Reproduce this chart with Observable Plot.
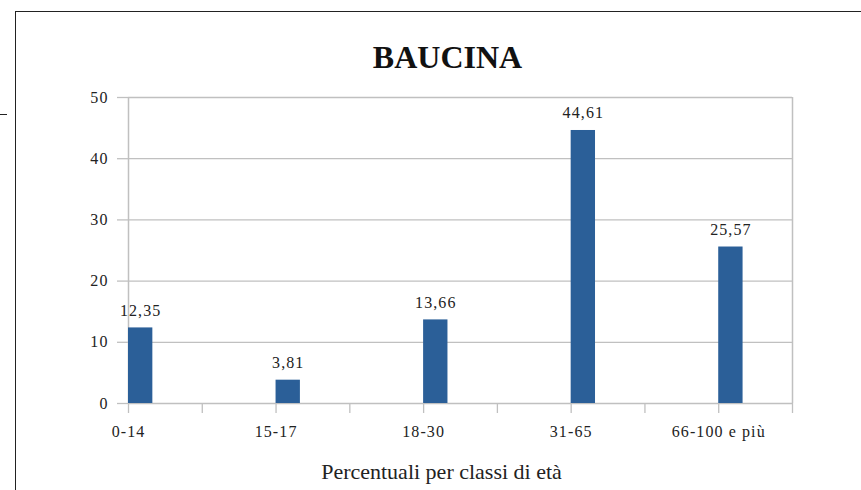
<!DOCTYPE html>
<html>
<head>
<meta charset="utf-8">
<script src="https://cdn.jsdelivr.net/npm/d3@7"></script>
<script src="https://cdn.jsdelivr.net/npm/@observablehq/plot@0.6"></script>
<style>
  html, body { margin: 0; padding: 0; background: #fff; }
  #wrap { position: relative; width: 861px; height: 490px; overflow: hidden; }
  #frame { position: absolute; left: 15px; top: 11px; width: 900px; height: 600px;
           border-left: 1.5px solid #222; border-top: 1.5px solid #222; }
  #dash { position: absolute; left: 0; top: 114px; width: 7px; height: 0; border-top: 1.5px solid #222; }
  #chart { position: absolute; left: 0; top: 0; }
  #chart svg, #chart svg text { font-family: "Liberation Serif", "Times New Roman", serif; }
  #chart svg text.spaced, #chart svg g.spaced text { letter-spacing: 1.1px; }
</style>
</head>
<body>
<div id="wrap">
  <div id="frame"></div>
  <div id="dash"></div>
  <div id="chart"></div>
</div>
<script>
const title = "BAUCINA";
const xTitle = "Percentuali per classi di età";
const categories = ["0-14", "15-17", "18-30", "31-65", "66-100 e più"];
const values = [12.35, 3.81, 13.66, 44.61, 25.57];
const yTicks = [0, 10, 20, 30, 40, 50];

const barWidth = 0.165;
const data = categories.map((c, i) => ({cat: c, i, value: values[i]}));
const fmt = v => v.toFixed(2).replace(".", ",");
const xMax = categories.length - 0.5;
const minorTicks = d3.range(0, xMax + 0.001, 0.5);

const font = "Liberation Serif";
const gridColor = "#c0c0c0";

const chart = Plot.plot({
  width: 861,
  height: 490,
  marginLeft: 128,
  marginRight: 69,
  marginTop: 97,
  marginBottom: 87,
  style: {fontFamily: font, fontSize: "16px", color: "#222", background: "transparent"},
  x: {type: "linear", domain: [0, xMax]},
  y: {domain: [0, 50]},
  marks: [
    Plot.gridY(yTicks.filter(d => d > 0), {stroke: gridColor, strokeOpacity: 1, strokeWidth: 1.3}),
    Plot.ruleX([0, xMax], {stroke: gridColor, strokeWidth: 1.5}),
    Plot.ruleY([0], {stroke: gridColor, strokeWidth: 1.5}),
    Plot.axisY({ticks: yTicks, tickSize: 11, tickPadding: 9, stroke: gridColor, strokeWidth: 1.3, label: null, fontSize: 16, fontFamily: font, className: "spaced"}),
    Plot.axisX({ticks: minorTicks, tickSize: 10, tickFormat: () => "", stroke: gridColor, strokeWidth: 1.3, label: null}),
    Plot.axisX({ticks: categories.map((c, i) => i), tickSize: 0, tickPadding: 22, tickFormat: i => categories[i], label: null, fontSize: 16, fontFamily: font, className: "spaced"}),
    Plot.rectY(data, {x1: d => d.i, x2: d => d.i + barWidth, y: "value", fill: "#2b5f98"}),
    Plot.text(data, {x: d => d.i + barWidth / 2, y: "value", text: d => fmt(d.value), lineAnchor: "bottom", dy: -12, fontSize: 16, fontFamily: font, fill: "#222", className: "spaced"}),
    Plot.text([title], {frameAnchor: "top", dx: -13, dy: -40, lineAnchor: "middle", fontSize: 32, fontWeight: "bold", fontFamily: font, fill: "#111"}),
    Plot.text([xTitle], {frameAnchor: "bottom", dx: -19, dy: 68, lineAnchor: "middle", fontSize: 22, fontFamily: font, fill: "#222"})
  ]
});
document.getElementById("chart").appendChild(chart);
</script>
</body>
</html>
